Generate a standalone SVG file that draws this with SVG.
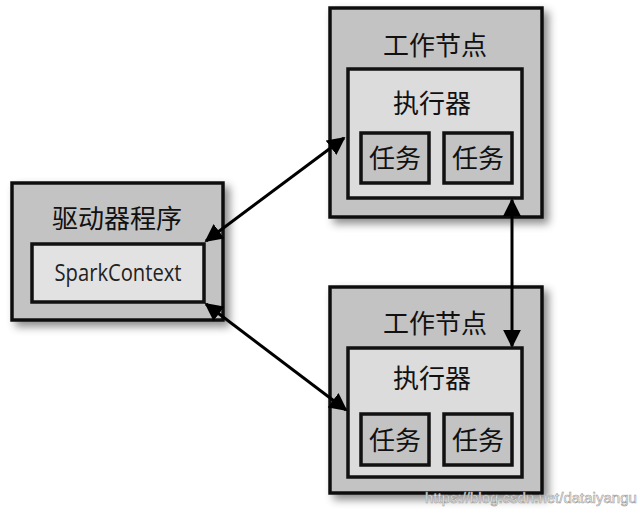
<svg xmlns="http://www.w3.org/2000/svg" width="640" height="517" viewBox="0 0 640 517">
<style>
.outer{fill:#c3c3c3;stroke:#111;stroke-width:3.5}
.exec{fill:#dcdcdc;stroke:#111;stroke-width:3.5}
.task{fill:#c3c3c3;stroke:#111;stroke-width:3.5}
.sc{fill:#e2e2e2;stroke:#111;stroke-width:3.5}
.zh{font-family:"Noto Sans CJK SC","Noto Sans",sans-serif;font-size:26px;fill:#111;text-anchor:middle}
.en{font-family:"Open Sans","Liberation Sans",sans-serif;font-size:23px;font-weight:500;fill:#222;text-anchor:middle}
.conn{stroke:#000;stroke-width:3;fill:none;marker-start:url(#ah);marker-end:url(#ah)}
.wm{font-family:"Liberation Sans",Arial,sans-serif;font-size:15px;fill:#ffffff;stroke:#9a9a9a;stroke-width:0.6}
</style>
<defs>
<filter id="sh" x="-10%" y="-10%" width="130%" height="130%">
<feDropShadow dx="5" dy="5" stdDeviation="4" flood-color="#000" flood-opacity="0.45"/>
</filter>
<marker id="ah" viewBox="0 0 10 10" refX="9" refY="5" markerWidth="6" markerHeight="6" orient="auto-start-reverse" markerUnits="strokeWidth">
<path d="M0,0 L10,5 L0,10 z" fill="#000"/>
</marker>
</defs>
<g id="driver">
<rect class="outer" x="12" y="183" width="211" height="137" filter="url(#sh)"/>
<text class="zh" x="117" y="228">驱动器程序</text>
<g id="sparkcontext">
<rect class="sc" x="32" y="244" width="172" height="58"/>
<text class="en" x="118" y="281" textLength="127" lengthAdjust="spacingAndGlyphs">SparkContext</text>
</g>
</g>
<g id="worker1">
<rect class="outer" x="330" y="8" width="212" height="209" filter="url(#sh)"/>
<text class="zh" x="435" y="55">工作节点</text>
<g id="executor1">
<rect class="exec" x="348" y="69" width="174" height="129"/>
<text class="zh" x="432" y="113">执行器</text>
<g id="task1a"><rect class="task" x="361" y="133" width="68" height="50"/><text class="zh" x="395" y="168">任务</text></g>
<g id="task1b"><rect class="task" x="444" y="133" width="68" height="50"/><text class="zh" x="478" y="168">任务</text></g>
</g>
</g>
<g id="worker2">
<rect class="outer" x="330" y="287" width="212" height="206" filter="url(#sh)"/>
<text class="zh" x="435" y="333">工作节点</text>
<g id="executor2">
<rect class="exec" x="348" y="348" width="174" height="129"/>
<text class="zh" x="432" y="388">执行器</text>
<g id="task2a"><rect class="task" x="361" y="414" width="68" height="51"/><text class="zh" x="395" y="450">任务</text></g>
<g id="task2b"><rect class="task" x="444" y="414" width="68" height="51"/><text class="zh" x="478" y="450">任务</text></g>
</g>
</g>
<g id="connectors">
<line class="conn" x1="206" y1="241" x2="344" y2="138"/>
<line class="conn" x1="206" y1="304" x2="346" y2="410"/>
<line class="conn" x1="512" y1="200" x2="512" y2="346"/>
</g>
<text class="wm" x="425" y="503">https://blog.csdn.net/dataiyangu</text>
</svg>
